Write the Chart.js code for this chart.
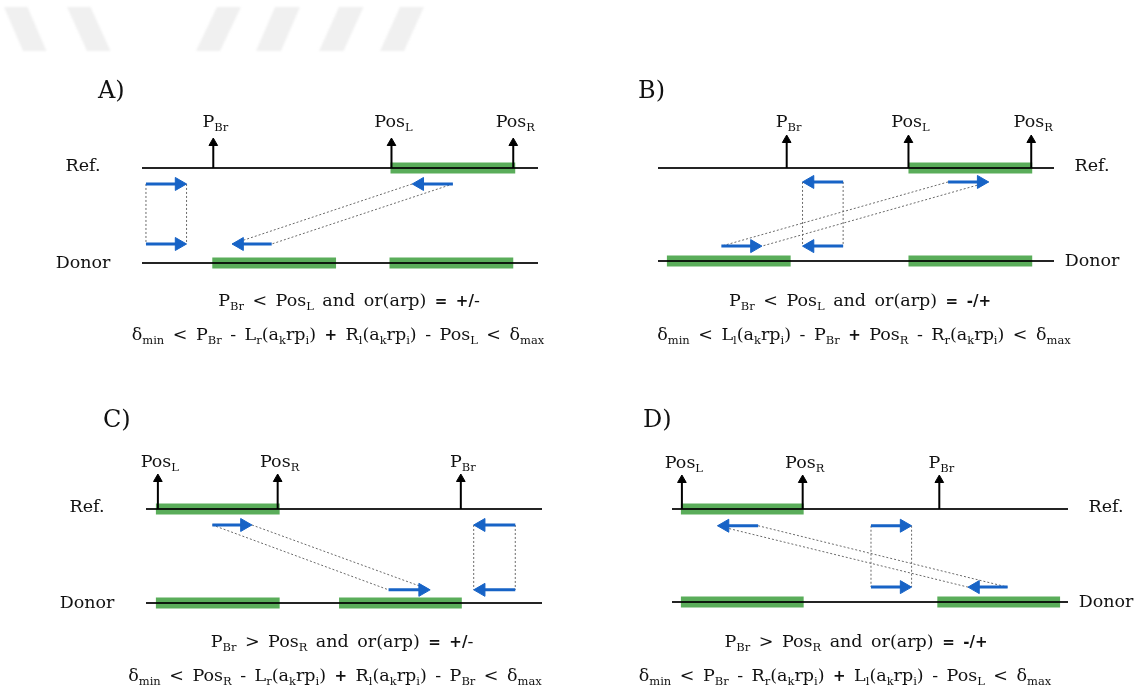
<!DOCTYPE html>
<html>
<head>
<meta charset="utf-8">
<script src="https://cdn.jsdelivr.net/npm/chart.js@4.4.1/dist/chart.umd.min.js"></script>
<style>
  html, body { margin: 0; padding: 0; background: #fff; }
  #stage { position: relative; width: 1136px; height: 691px; overflow: hidden; background: #fff; }
  #stage canvas { position: absolute; }
</style>
</head>
<body>
<div id="stage"></div>
<script>
// ---- Diagram content (positions along the sequence axis, 0–400) ----
const panelIds = ['A', 'B', 'C', 'D'];
const rowNames = ['Ref.', 'Donor'];
const genomeLength = 400;

const pBr  = [72, 130, 318, 270];
const posL = [252, 253, 12, 10];
const posR = [375, 377, 133, 132];

const refBlocks        = [[251, 377], [253, 378], [10, 135], [9, 133]];
const donorBlocksLeft  = [[71, 196],  [9, 134],   [10, 135], [9, 133]];
const donorBlocksRight = [[250, 375], [253, 378], [195, 319], [268, 392]];

// read arrows as [tail, tip]
const pairArrows      = [[4, 45],   [187, 146], [373, 331], [201, 242]];
const refSideArrows   = [[314, 273], [293, 334], [67, 107],  [87, 46]];
const donorSideArrows = [[131, 91],  [64, 105],  [245, 287], [339, 299]];

const conditionText = [
  'P_{Br} < Pos_{L} and or(arp) *=* *+/*-',
  'P_{Br} < Pos_{L} and or(arp) *=* *-/+*',
  'P_{Br} > Pos_{R} and or(arp) *=* *+/*-',
  'P_{Br} > Pos_{R} and or(arp) *=* *-/+*'
];
const windowText = [
  'δ_{min} < P_{Br} - L_{r}(a_{k}rp_{i}) *+* R_{l}(a_{k}rp_{i}) - Pos_{L} < δ_{max}',
  'δ_{min} < L_{l}(a_{k}rp_{i}) - P_{Br} *+* Pos_{R} - R_{r}(a_{k}rp_{i}) < δ_{max}',
  'δ_{min} < Pos_{R} - L_{r}(a_{k}rp_{i}) *+* R_{l}(a_{k}rp_{i}) - P_{Br} < δ_{max}',
  'δ_{min} < P_{Br} - R_{r}(a_{k}rp_{i}) *+* L_{l}(a_{k}rp_{i}) - Pos_{L} < δ_{max}'
];

// ---- Layout (page pixels) ----
const pxPerUnit = 0.99;
const panels = [
  { ox: 0,   oy: 0,   w: 568, h: 345, lineStart: 142, refY: 168, donorY: 263, tracks: [0.168, 0.80], markerLen: 30, labelBase: 127, rowSide: 'left',  letter: [98, 98],   textCx: [349, 338], textBase: [306, 340] },
  { ox: 568, oy: 0,   w: 568, h: 345, lineStart: 658, refY: 168, donorY: 261, tracks: [0.15, 0.84],  markerLen: 33, labelBase: 127, rowSide: 'right', letter: [638, 98],  textCx: [860, 864], textBase: [306, 340] },
  { ox: 0,   oy: 345, w: 568, h: 346, lineStart: 146, refY: 509, donorY: 603, tracks: [0.17, 0.86],  markerLen: 35, labelBase: 467, rowSide: 'left',  letter: [103, 427], textCx: [342, 335], textBase: [647, 681] },
  { ox: 568, oy: 345, w: 568, h: 346, lineStart: 672, refY: 509, donorY: 602, tracks: [0.18, 0.84],  markerLen: 34, labelBase: 468, rowSide: 'right', letter: [643, 427], textCx: [856, 845], textBase: [647, 681] }
];
// faint header stripes: [top-left x, bottom-left x, width]
const headerStripes = [[4, 23, 23.5], [67, 87, 23.5], [217, 196, 24], [275, 256, 25], [339, 319, 24.5], [400, 380, 24]];

const GREEN = '#5aad5a';
const BLUE = '#1763c6';
const LINK = '#6a6a6a';
const AXIS = 'rgba(0,0,0,0.86)';
const readHead = 7.5;
const markerHead = 5;
const wordGap = 8.5;

const fonts = {
  main: '17.5px "DejaVu Serif"',
  sub: '11.5px "DejaVu Serif"',
  bold: 'bold 15px "DejaVu Sans"',
  letter: '24px "DejaVu Serif"'
};

// "_{x}" = subscript, "*x*" = bold symbol, spaces become fixed gaps
function parseRich(str) {
  const runs = [];
  let buf = '', bold = false, i = 0;
  const push = (t, sub) => { if (t) runs.push({ t, sub, bold }); };
  while (i < str.length) {
    const c = str[i];
    if (c === '_' && str[i + 1] === '{') {
      push(buf, false); buf = '';
      const j = str.indexOf('}', i);
      push(str.slice(i + 2, j), true);
      i = j + 1;
    } else if (c === '*') {
      push(buf, false); buf = '';
      bold = !bold; i++;
    } else if (c === ' ') {
      push(buf, false); buf = '';
      runs.push({ gap: true });
      i++;
    } else { buf += c; i++; }
  }
  push(buf, false);
  return runs;
}
function runFont(r) { return r.sub ? fonts.sub : (r.bold ? fonts.bold : fonts.main); }
function drawRich(ctx, str, x, y, align, gap) {
  const runs = parseRich(str);
  let total = 0;
  runs.forEach(r => {
    if (r.gap) { r.w = gap; } else { ctx.font = runFont(r); r.w = ctx.measureText(r.t).width; }
    total += r.w;
  });
  let cx = align === 'center' ? x - total / 2 : x;
  runs.forEach(r => {
    if (!r.gap) {
      ctx.font = runFont(r);
      ctx.fillText(r.t, cx, y + (r.sub ? 4 : 0));
    }
    cx += r.w;
  });
}

function seg(x0, x1, y) { return [{ x: x0, y }, { x: x1, y }]; }

function datasetsFor(i) {
  const P = panels[i];
  const s = P.donorY - P.refY;
  const ds = [];
  const add = (data, extra) => ds.push(Object.assign({
    data, showLine: true, pointRadius: 0, borderWidth: 2, borderColor: '#000',
    fill: false, tension: 0, borderCapStyle: 'butt'
  }, extra));

  // homologous blocks
  add(seg(refBlocks[i][0], refBlocks[i][1], 0), { borderColor: GREEN, borderWidth: 11, order: 6 });
  [donorBlocksLeft[i], donorBlocksRight[i]].forEach(b =>
    add(seg(b[0], b[1], 1), { borderColor: GREEN, borderWidth: 11, order: 6 }));

  // sequences
  [0, 1].forEach(row => add(seg(0, genomeLength, row), { borderColor: AXIS, borderWidth: 2, order: 5 }));

  // breakpoint / block-boundary markers
  [pBr[i], posL[i], posR[i]].forEach(x => {
    const headY = -(P.markerLen - markerHead) / s;
    add([{ x, y: 0 }, { x, y: headY }], {
      borderColor: '#000', borderWidth: 2, order: 4,
      pointRadius: [0, markerHead], pointStyle: 'triangle', pointRotation: 0,
      pointBackgroundColor: '#000', pointBorderColor: '#000', pointBorderWidth: 1
    });
  });

  const [up, low] = P.tracks;
  const dotted = { borderColor: LINK, borderWidth: 1, borderDash: [2, 2], order: 3 };
  // pair arrows linked vertically
  pairArrows[i].forEach(x => add([{ x, y: up }, { x, y: low }], dotted));
  // split pair linked diagonally (tail-tail, tip-tip)
  [0, 1].forEach(k => add([{ x: refSideArrows[i][k], y: up }, { x: donorSideArrows[i][k], y: low }], dotted));

  // read arrows
  const arrow = (a, y) => {
    const dir = Math.sign(a[1] - a[0]);
    const headCenter = a[1] - dir * readHead / pxPerUnit;
    add([{ x: a[0], y }, { x: headCenter, y }], {
      borderColor: BLUE, borderWidth: 3, order: 1,
      pointRadius: [0, readHead], pointStyle: 'triangle', pointRotation: dir > 0 ? 90 : -90,
      pointBackgroundColor: BLUE, pointBorderColor: BLUE, pointBorderWidth: 1
    });
  };
  arrow(pairArrows[i], up);
  arrow(pairArrows[i], low);
  arrow(refSideArrows[i], up);
  arrow(donorSideArrows[i], low);
  return ds;
}

const labelPlugin = {
  id: 'diagramLabels',
  beforeDatasetsDraw(chart) {
    const i = chart.options.plugins.diagramLabels.panel;
    if (i !== 0) return;
    const ctx = chart.ctx;
    ctx.save();
    ctx.filter = 'blur(0.8px)';
    ctx.fillStyle = '#f0f0f0';
    headerStripes.forEach(([tx, bx, w]) => {
      ctx.beginPath();
      ctx.moveTo(tx, 7); ctx.lineTo(tx + w, 7);
      ctx.lineTo(bx + w, 51); ctx.lineTo(bx, 51);
      ctx.closePath(); ctx.fill();
    });
    ctx.restore();
  },
  afterDatasetsDraw(chart) {
    const i = chart.options.plugins.diagramLabels.panel;
    const P = panels[i];
    const ctx = chart.ctx;
    const xs = chart.scales.x, ys = chart.scales.y;
    ctx.save();
    ctx.fillStyle = '#111';
    ctx.textBaseline = 'alphabetic';

    // panel letter
    ctx.textAlign = 'left';
    ctx.font = fonts.letter;
    ctx.fillText(panelIds[i] + ')', P.letter[0] - P.ox, P.letter[1] - P.oy);

    // row names
    ctx.textAlign = 'center';
    ctx.font = fonts.main;
    const rx = P.rowSide === 'left' ? xs.getPixelForValue(0) - 59 : xs.getPixelForValue(genomeLength) + 38;
    ctx.fillText(rowNames[0], rx, ys.getPixelForValue(0) + 3);
    ctx.fillText(rowNames[1], rx, ys.getPixelForValue(1) + 5);

    // marker labels
    ctx.textAlign = 'left';
    [['P_{Br}', pBr[i]], ['Pos_{L}', posL[i]], ['Pos_{R}', posR[i]]].forEach(([t, v]) => {
      drawRich(ctx, t, xs.getPixelForValue(v) + 2, P.labelBase - P.oy, 'center', 5);
    });

    // conditions
    drawRich(ctx, conditionText[i], P.textCx[0] - P.ox, P.textBase[0] - P.oy, 'center', wordGap);
    drawRich(ctx, windowText[i], P.textCx[1] - P.ox, P.textBase[1] - P.oy, 'center', wordGap);
    ctx.restore();
  }
};

const stage = document.getElementById('stage');
panels.forEach((P, i) => {
  const cv = document.createElement('canvas');
  cv.width = P.w; cv.height = P.h;
  cv.style.left = P.ox + 'px'; cv.style.top = P.oy + 'px';
  cv.style.width = P.w + 'px'; cv.style.height = P.h + 'px';
  stage.appendChild(cv);

  const startLocal = P.lineStart - P.ox;
  const refLocal = P.refY - P.oy;
  const s = P.donorY - P.refY;

  new Chart(cv, {
    type: 'scatter',
    data: { datasets: datasetsFor(i) },
    plugins: [labelPlugin],
    options: {
      responsive: false,
      animation: false,
      devicePixelRatio: 1,
      events: [],
      layout: { padding: 0, autoPadding: false },
      plugins: {
        legend: { display: false },
        tooltip: { enabled: false },
        diagramLabels: { panel: i }
      },
      scales: {
        x: { type: 'linear', display: false, min: -startLocal / pxPerUnit, max: (P.w - startLocal) / pxPerUnit },
        y: { type: 'linear', display: false, reverse: true, min: -refLocal / s, max: (P.h - refLocal) / s }
      }
    }
  });
});
</script>
</body>
</html>
